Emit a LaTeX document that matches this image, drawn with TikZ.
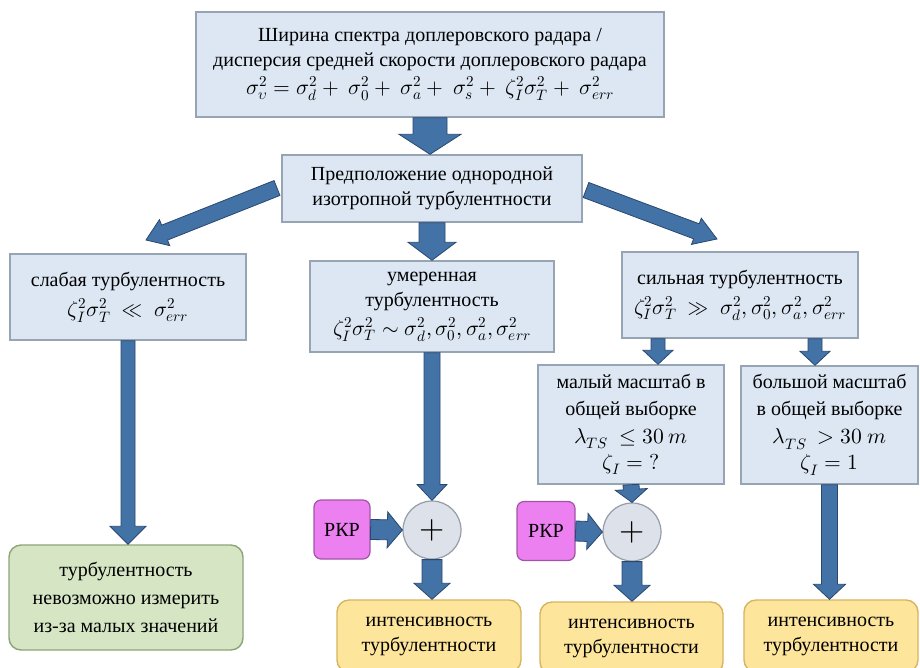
\documentclass[tikz,border=0pt]{standalone}
\usepackage{fontspec}
\usepackage{unicode-math}
\setmainfont{Liberation Serif}
\newfontfamily\boxfont{Liberation Serif}
\setmathfont{Latin Modern Math}[Scale=1.08]
\usepackage{tikz}
\usetikzlibrary{calc}

\definecolor{boxblue}{RGB}{220,231,243}
\definecolor{boxline}{RGB}{150,164,180}
\definecolor{arrowblue}{RGB}{66,114,166}
\definecolor{arrowline}{RGB}{42,72,110}
\definecolor{greenfill}{RGB}{214,230,196}
\definecolor{greenline}{RGB}{140,164,118}
\definecolor{yellowfill}{RGB}{253,229,156}
\definecolor{yellowline}{RGB}{214,180,96}
\definecolor{pinkfill}{RGB}{236,128,240}
\definecolor{pinkline}{RGB}{160,84,168}
\definecolor{sumfill}{RGB}{221,225,233}
\definecolor{sumline}{RGB}{150,156,168}

% block arrow: from, to, half shaft, half head, head length
\newcommand{\fatarrow}[5]{%
  \coordinate (fa-n) at ($(#2)!#5!(#1)$);
  \draw[fatline] ($(#1)!#3!90:(#2)$) -- ($(fa-n)!#3!-90:(#1)$) -- ($(fa-n)!#4!-90:(#1)$)
    -- (#2) -- ($(fa-n)!#4!90:(#1)$) -- ($(fa-n)!#3!90:(#1)$) -- ($(#1)!#3!-90:(#2)$) -- cycle;}

\begin{document}
\begin{tikzpicture}[x=1pt, y=-1pt,
    every node/.style={font=\boxfont\fontsize{20}{25}\selectfont, align=center},
    bluebox/.style={draw=boxline, fill=boxblue, line width=1.4pt, inner sep=2pt},
    greenbox/.style={draw=greenline, fill=greenfill, line width=1.4pt, rounded corners=12pt},
    yellowbox/.style={draw=yellowline, fill=yellowfill, line width=1.4pt, rounded corners=12pt},
    pinkbox/.style={draw=pinkline, fill=pinkfill, line width=1.2pt, rounded corners=7pt, inner sep=0pt},
    sumnode/.style={circle, draw=sumline, fill=sumfill, line width=1.2pt, minimum size=58pt, inner sep=0pt, font=\fontsize{30}{30}\selectfont},
    fatline/.style={draw=arrowline, fill=arrowblue, line width=0.8pt, line join=miter}]
  \useasboundingbox (0,0) rectangle (920,667);
  \clip (0,0) rectangle (920,667);

  % Spectrum width
  \node[bluebox, minimum width=468pt, minimum height=105pt] (top) at (430,64.5)
    {Ширина спектра доплеровского радара /\\
     дисперсия средней скорости доплеровского радара\\[3pt]
     $\sigma_\upsilon^2 = \sigma_d^2 +\ \sigma_0^2 +\ \sigma_a^2 +\ \sigma_s^2 +\ \zeta_I^2\sigma_T^2 +\ \sigma_{err}^2$};

  % Assumption
  \node[bluebox, minimum width=300pt, minimum height=67pt] (assume) at (432,188.5)
    {Предположение однородной\\ изотропной турбулентности};

  % Three cases
  \node[bluebox, minimum width=236pt, minimum height=86pt] (weak) at (128,297)
    {слабая турбулентность\\[5pt] $\zeta_I^2\sigma_T^2\ \ll\ \sigma_{err}^2$};
  \node[bluebox, minimum width=244pt, minimum height=91pt] (moder) at (432,306.5)
    {умеренная\\ турбулентность\\[4pt] $\zeta_I^2\sigma_T^2 \sim \sigma_d^2,\sigma_0^2,\sigma_a^2,\sigma_{err}^2$};
  \node[bluebox, minimum width=236pt, minimum height=86pt] (strong) at (740,295)
    {сильная турбулентность\\[5pt] $\zeta_I^2\sigma_T^2\ \gg\ \sigma_d^2,\sigma_0^2,\sigma_a^2,\sigma_{err}^2$};

  % Scales
  \node[bluebox, minimum width=186pt, minimum height=119pt] (small) at (631,424.5)
    {малый масштаб в\\[2pt] общей выборке\\[3pt] $\lambda_{TS}\ \le 30\ m$\\[1pt] $\zeta_I = ?$};
  \node[bluebox, minimum width=177pt, minimum height=118pt] (large) at (829.5,425)
    {большой масштаб\\[2pt] в общей выборке\\[3pt] $\lambda_{TS}\ > 30\ m$\\[1pt] $\zeta_I = 1$};

  % Results
  \node[greenbox, minimum width=234pt, minimum height=105pt] (none) at (126,597.5)
    {турбулентность\\[3pt] невозможно измерить\\[3pt] из-за малых значений};
  \node[pinkbox, minimum width=56pt, minimum height=59pt] (rkpa) at (342,529.5) {РКР};
  \node[sumnode] (suma) at (432,530) {$+$};
  \node[pinkbox, minimum width=58pt, minimum height=59pt] (rkpb) at (546,531) {РКР};
  \node[sumnode] (sumb) at (632,532) {$+$};
  \node[yellowbox, minimum width=184pt, minimum height=72pt] (inta) at (429,636) {интенсивность\\ турбулентности};
  \node[yellowbox, minimum width=183pt, minimum height=72pt] (intb) at (631.5,638) {интенсивность\\ турбулентности};
  \node[yellowbox, minimum width=174pt, minimum height=72pt] (intc) at (831,636) {интенсивность\\ турбулентности};

  % Arrow ends
  \path (top.south |- assume.north) coordinate (top-e);
  \coordinate (ltail) at (277,188);
  \coordinate (ltip) at (146,240);
  \coordinate (rtail) at (586,190);
  \coordinate (rtip) at (717,239);
  \path (weak.south |- none.north) coordinate (weak-e);
  \coordinate (sa) at ($(strong.south)+(-82,0)$);
  \coordinate (sb) at ($(strong.south)+(75,0)$);
  \path (sa |- small.north) coordinate (sa-e);
  \path (sb |- large.north) coordinate (sb-e);
  \path (suma.south |- inta.north) coordinate (suma-e);
  \path (sumb.south |- intb.north) coordinate (sumb-e);
  \path (large.south |- intc.north) coordinate (large-e);

  % Arrows
  \fatarrow{top.south}{top-e}{17pt}{31pt}{20pt}
  \fatarrow{ltail}{ltip}{8pt}{14pt}{20pt}
  \fatarrow{rtail}{rtip}{8pt}{14pt}{22pt}
  \fatarrow{assume.south}{moder.north}{13pt}{24pt}{18pt}
  \fatarrow{weak.south}{weak-e}{7pt}{18pt}{18pt}
  \fatarrow{sa}{sa-e}{7pt}{15pt}{14pt}
  \fatarrow{sb}{sb-e}{7pt}{15pt}{14pt}
  \fatarrow{moder.south}{suma.north}{8pt}{15pt}{16pt}
  \fatarrow{rkpa.east}{suma.west}{10pt}{18pt}{15pt}
  \fatarrow{suma.south}{suma-e}{10pt}{18pt}{16pt}
  \fatarrow{small.south}{sumb.north}{8pt}{16pt}{13pt}
  \fatarrow{rkpb.east}{sumb.west}{10pt}{18pt}{15pt}
  \fatarrow{sumb.south}{sumb-e}{10pt}{18pt}{16pt}
  \fatarrow{large.south}{large-e}{8pt}{16pt}{15pt}
\end{tikzpicture}
\end{document}
